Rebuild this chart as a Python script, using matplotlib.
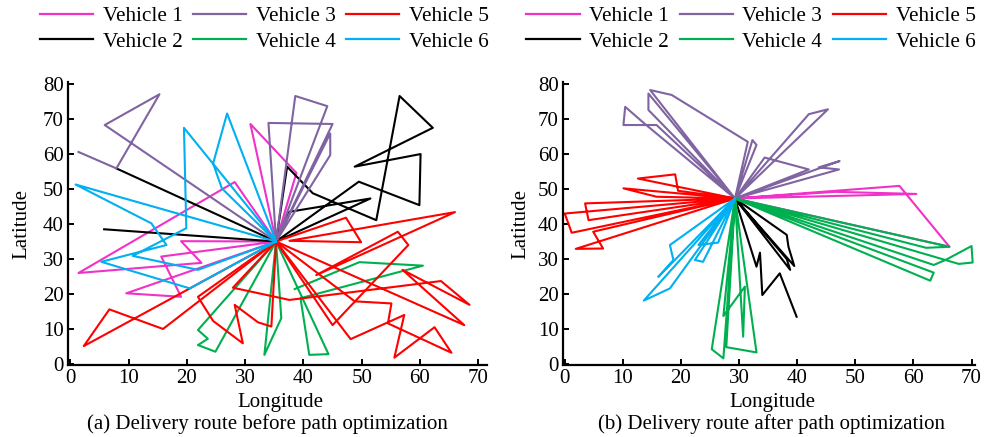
import matplotlib
matplotlib.use('Agg')
import matplotlib.pyplot as plt
from matplotlib.lines import Line2D

plt.rcParams['font.family'] = ['Liberation Serif', 'DejaVu Serif']

vehicle_names = ['Vehicle 1', 'Vehicle 2', 'Vehicle 3', 'Vehicle 4', 'Vehicle 5', 'Vehicle 6']
vehicle_colors = ['#f032c8', '#000000', '#8064a2', '#00b050', '#ff0000', '#00b0f0']

# depots (distribution centre) of both panels
Db = (35.3, 35.0)
Da = (29.3, 47.3)

# (a) routes before optimization, one list of polylines per vehicle
before_v1 = [[Db, (30.9, 68.6), (38.8, 54.6), Db, (28.2, 52.0), (1.4, 26.0), (22.5, 28.9),
              (19.0, 35.1), Db, (15.6, 30.7), (19.0, 19.2), (9.6, 20.2), Db]]
before_v2 = [[(7.9, 55.9), Db, (37.2, 56.4), (41.6, 48.8), (52.5, 41.1), (56.5, 76.6), (62.2, 67.5),
              (48.8, 56.4), (60.1, 60.0), (59.9, 45.4), (49.5, 52.1), Db, (37.6, 43.5), (51.5, 47.3), Db],
             [Db, (5.8, 38.5)]]
before_v3 = [[(1.4, 60.6), (7.9, 55.9), (15.3, 77.1), (5.9, 68.3), Db, (34.0, 68.9), (45.0, 68.6), Db,
              (44.6, 59.7), (44.6, 65.9), Db, (44.1, 73.7), (38.6, 76.6), Db]]
before_v4 = [[Db, (44.3, 2.8), (41.0, 2.6), (39.5, 18.8), (60.5, 28.1), (49.6, 29.1), (38.5, 21.4)],
             [Db, (33.3, 2.6), (36.2, 13.1), Db],
             [Db, (21.9, 9.7), (23.6, 7.2), (21.9, 5.4), (24.9, 3.5), Db]]
before_v5 = [[Db, (2.3, 5.1), (6.7, 15.6), (15.9, 10.0), Db],
             [Db, (21.9, 19.2), (24.5, 12.3), (29.6, 5.9), (28.2, 16.9), (32.2, 11.9), (34.5, 10.7), Db],
             [Db, (27.9, 21.8), (37.6, 18.3), (63.6, 23.7), (68.5, 16.9), (57.0, 26.9), (67.6, 11.1), Db],
             [Db, (47.3, 41.8), (49.9, 34.8), (37.6, 35.2), (66.0, 43.4), (42.2, 25.4), (56.2, 37.8),
              (58.0, 34.0), (48.8, 17.8), (45.0, 11.1), Db],
             [Db, (48.8, 17.9), (55.1, 17.3), (54.5, 11.6), (65.4, 3.2), (62.5, 10.5), (55.6, 1.8),
              (57.3, 14.0), (48.1, 7.1), Db]]
before_v6 = [[Db, (26.9, 71.6), (24.5, 57.3), (26.0, 50.2), Db, (19.5, 67.5), (19.9, 38.8), (10.7, 30.9),
              (21.9, 26.9), Db, (0.9, 51.3), (13.9, 40.2), (16.5, 34.0), (5.3, 29.2), (20.5, 21.6), Db]]

# (b) routes after optimization
after_v1 = [[Da, (57.6, 50.9), (66.2, 33.5), Da, (46.5, 49.2), (60.5, 48.6), Da]]
after_v2 = [[Da, (38.2, 36.9), (38.5, 33.5), (39.5, 28.0), Da, (38.2, 30.0), (38.8, 26.9), Da],
            [Da, (33.0, 27.8), (33.6, 31.8), (34.0, 19.7), (37.0, 25.9), (39.9, 13.5)]]
after_v3 = [[Da, (15.8, 68.3), (10.1, 68.3), (10.4, 73.5), (13.8, 68.6), Da, (14.4, 72.6), (14.4, 77.3), Da,
             (14.7, 78.3), (18.4, 76.9), (31.5, 63.5), Da, (32.3, 64.0), (33.0, 62.6), Da],
            [Da, (42.0, 71.4), (45.3, 72.8), Da, (34.4, 59.0), (42.0, 55.6), Da,
             (47.3, 58.0), (43.7, 56.2), (47.2, 55.6), Da]]
after_v4 = [[Da, (62.2, 33.2), (66.2, 33.5), Da, (63.5, 28.3), (65.5, 29.7), (70.0, 33.7), (70.2, 29.0),
             (67.8, 28.6), Da, (63.5, 26.1), (62.9, 23.8), Da],
            [Da, (25.3, 4.2), (27.3, 1.6), Da, (27.3, 13.7), (31.0, 22.1), (30.7, 7.8), Da,
             (27.8, 4.8), (33.0, 3.3), Da]]
after_v5 = [[Da, (12.6, 53.0), (19.0, 54.2), (19.5, 49.5), Da, (10.1, 50.2), (15.8, 47.8), Da,
             (3.5, 45.9), (4.1, 41.1), Da, (0.0, 43.0), (1.2, 37.5), Da, (4.9, 37.8), (6.6, 33.0),
             (1.9, 32.9), Da]]
after_v6 = [[Da, (13.6, 18.1), (18.1, 21.6), Da, (16.1, 24.9), (18.7, 29.7), (18.1, 34.0), Da,
             (22.4, 29.7), (23.8, 29.2), Da, (23.0, 34.0), (26.4, 34.7), Da]]

before_routes = [before_v1, before_v2, before_v3, before_v4, before_v5, before_v6]
after_routes = [after_v1, after_v2, after_v3, after_v4, after_v5, after_v6]

fs = 15
fig = plt.figure(figsize=(9.84, 4.37), dpi=100)
ax1 = fig.add_axes([68 / 984, 72 / 437, 419 / 984, 283 / 437])
ax2 = fig.add_axes([563 / 984, 72 / 437, 412 / 984, 283 / 437])


def draw(ax, routes, xlim):
    for k, vehicle in enumerate(routes):
        for path in vehicle:
            xs = [p[0] for p in path]
            ys = [p[1] for p in path]
            ax.plot(xs, ys, color=vehicle_colors[k], lw=1.5, clip_on=False)
    ax.set_xlim(*xlim)
    ax.set_ylim(-0.3, 80.6)
    ax.set_xticks(range(0, 71, 10))
    ax.set_yticks(range(0, 81, 10))
    ax.spines['top'].set_visible(False)
    ax.spines['right'].set_visible(False)
    ax.spines['left'].set_linewidth(1.6)
    ax.spines['bottom'].set_linewidth(1.6)
    ax.tick_params(direction='in', length=4, width=1.4, labelsize=fs, pad=3)


draw(ax1, before_routes, (-0.4, 71.5))
draw(ax2, after_routes, (-0.3, 70.6))

for xc, tx in [(22, 'Latitude'), (521, 'Latitude')]:
    fig.text(xc / 984, (437 - 224) / 437, tx, rotation=90, ha='center', va='center', fontsize=fs)
fig.text(280 / 984, (437 - 402) / 437, 'Longitude', ha='center', va='center', fontsize=fs)
fig.text(772 / 984, (437 - 402) / 437, 'Longitude', ha='center', va='center', fontsize=fs)
fig.text(267 / 984, (437 - 424) / 437, '(a) Delivery route before path optimization',
         ha='center', va='center', fontsize=fs)
fig.text(772 / 984, (437 - 424) / 437, '(b) Delivery route after path optimization',
         ha='center', va='center', fontsize=fs)

handles = [Line2D([], [], color=c, lw=1.6) for c in vehicle_colors]
for xc in [264.5, 751]:
    fig.legend(handles, vehicle_names, loc='center', ncol=3, frameon=False,
               bbox_to_anchor=(xc / 984, (437 - 29) / 437), fontsize=15.3,
               handlelength=2.5, handletextpad=0.45, columnspacing=0.5, labelspacing=0.25,
               borderpad=0, borderaxespad=0)

fig.savefig('out.png', dpi=100)
